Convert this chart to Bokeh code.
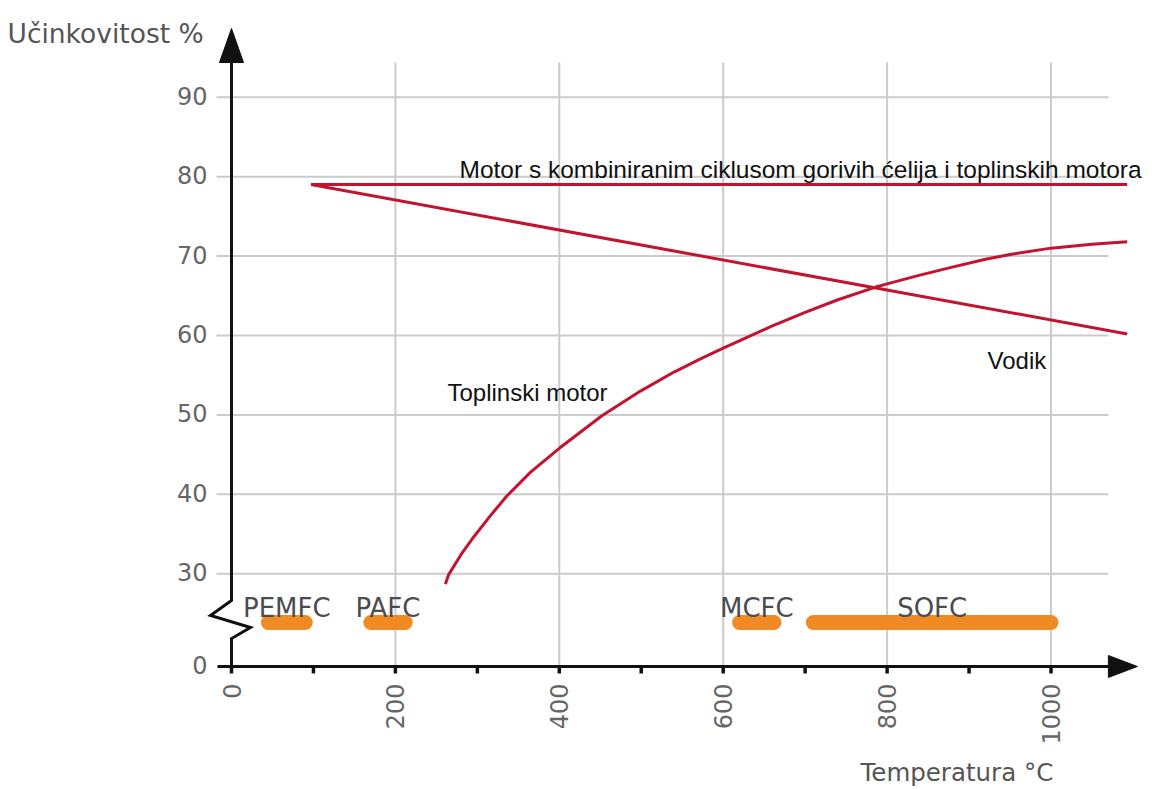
import math
from bokeh.plotting import figure
from bokeh.models import Range1d
from bokeh.core.properties import value
from bokeh.embed import file_html
from bokeh.resources import INLINE

# ---------------- data ----------------
x_ticks = [0, 200, 400, 600, 800, 1000]
x_tick_labels = ["0", "200", "400", "600", "800", "1000"]
x_minor_ticks = [100, 300, 500, 700, 900]
y_ticks = [0, 30, 40, 50, 60, 70, 80, 90]
y_tick_labels = ["0", "30", "40", "50", "60", "70", "80", "90"]
grid_y = [30, 40, 50, 60, 70, 80, 90]
grid_x = [200, 400, 600, 800, 1000]

combined_x = [97, 1093]
combined_y = [79, 79]
hydrogen_x = [97, 1093]
hydrogen_y = [79, 60.2]
heat_x = [261, 265, 280, 296, 315, 336, 365, 400, 452, 499, 540, 571, 600,
          621, 660, 700, 740, 786, 800, 840, 877, 920, 950, 1000, 1050, 1093]
heat_y = [28.7, 29.9, 32.4, 34.7, 37.2, 39.8, 42.8, 45.8, 49.9, 53.0, 55.4, 57.0, 58.4,
          59.4, 61.2, 62.9, 64.5, 66.1, 66.5, 67.6, 68.55, 69.6, 70.2, 71.0, 71.5, 71.8]

fuel_cells = ["PEMFC", "PAFC", "MCFC", "SOFC"]
fc_start = [45, 170, 620, 710]
fc_end = [90, 212, 662, 1000]

# ---------------- layout constants ----------------
PX_PER_X = 0.8195      # pixels per degree C
PX_PER_Y = 7.943       # pixels per percent
BREAK_POS = 18.33      # position at which the "0" of the broken y axis sits
FC_ROW = 23.87         # row of the fuel-cell bars inside the break
X_AXIS_END = 1070
Y_AXIS_END = 94.37

def dx(px):
    return px / PX_PER_X

def dy(px):
    return px / PX_PER_Y

W, H = 1152, 789
X0 = -dx(231)
Y0 = 30 - dy(H - 573.3)
p = figure(width=W, height=H, output_backend="svg", toolbar_location=None,
           x_axis_type=None, y_axis_type=None,
           x_range=Range1d(X0, X0 + dx(W)),
           y_range=Range1d(Y0, Y0 + dy(H)),
           min_border=0, outline_line_color=None)
p.background_fill_color = "white"
p.border_fill_color = "white"

GRID = "#cbcbcb"
RED = "#c3132f"
ORANGE = "#f08a24"
TXT_GRAY = "#666666"

# grid lines
p.segment(x0=[-dx(15)] * len(grid_y), x1=[X_AXIS_END] * len(grid_y),
          y0=grid_y, y1=grid_y, line_color=GRID, line_width=2)
p.segment(x0=grid_x, x1=grid_x, y0=[BREAK_POS] * len(grid_x),
          y1=[Y_AXIS_END] * len(grid_x), line_color=GRID, line_width=2)

# fuel-cell temperature ranges
p.segment(x0=fc_start, x1=fc_end, y0=[FC_ROW] * 4, y1=[FC_ROW] * 4,
          line_color=ORANGE, line_width=15, line_cap="round")
fc_mid = [(a + b) / 2 for a, b in zip(fc_start, fc_end)]
p.text(x=fc_mid, y=[FC_ROW + dy(14)] * 4, text=fuel_cells,
       text_align="center", text_baseline="alphabetic",
       text_font=value("DejaVu Sans"), text_font_size="26px",
       text_color="#4b4b52")

# curves
p.line(combined_x, combined_y, line_color=RED, line_width=3)
p.line(hydrogen_x, hydrogen_y, line_color=RED, line_width=3)
p.line(heat_x, heat_y, line_color=RED, line_width=3, line_join="round")

# x axis with arrow
p.segment(x0=[-dx(14)], x1=[X_AXIS_END], y0=[BREAK_POS], y1=[BREAK_POS],
          line_color="#111111", line_width=3)
p.patch([X_AXIS_END, X_AXIS_END + dx(29), X_AXIS_END],
        [BREAK_POS + dy(11), BREAK_POS, BREAK_POS - dy(11)],
        fill_color="#111111", line_color="#111111")
all_ticks = sorted(x_ticks + x_minor_ticks)
p.segment(x0=all_ticks, x1=all_ticks, y0=[BREAK_POS] * len(all_ticks),
          y1=[BREAK_POS - dy(7)] * len(all_ticks), line_color="#111111", line_width=3.5)

# y axis with break symbol and arrow
zig_x = [0, 0, -dx(21), dx(19), 0, 0]
zig_y = [Y_AXIS_END, 26.64, 24.75, 23.24, 21.85, BREAK_POS]
p.line(zig_x, zig_y, line_color="#111111", line_width=3, line_join="miter")
p.patch([-dx(12), 0, dx(12)],
        [Y_AXIS_END, Y_AXIS_END + dy(34), Y_AXIS_END],
        fill_color="#111111", line_color="#111111")

# tick labels
y_pos = [BREAK_POS if t == 0 else t for t in y_ticks]
p.text(x=[-dx(24)] * len(y_pos), y=[v + dy(1.5) for v in y_pos], text=y_tick_labels,
       text_align="right", text_baseline="middle",
       text_font=value("DejaVu Sans"), text_font_size="24px", text_color=TXT_GRAY)
p.text(x=x_ticks, y=[BREAK_POS - dy(17)] * len(x_ticks), text=x_tick_labels,
       angle=math.pi / 2, text_align="right", text_baseline="middle",
       text_font=value("DejaVu Sans"), text_font_size="24px", text_color=TXT_GRAY)

# axis titles
p.text(x=[-dx(224)], y=[30 + dy(540.3)], text=["Učinkovitost %"],
       text_align="left", text_baseline="alphabetic",
       text_font=value("DejaVu Sans"), text_font_size="26.5px", text_color="#555555")
p.text(x=[dx(629)], y=[30 - dy(183.7)], text=["Temperatura °C"],
       text_align="left", text_baseline="top",
       text_font=value("DejaVu Sans"), text_font_size="24.5px", text_color="#555555")

# curve labels
p.text(x=[dx(228)], y=[30 + dy(404.3)],
       text=["Motor s kombiniranim ciklusom gorivih ćelija i toplinskih motora"],
       text_align="left", text_baseline="alphabetic",
       text_font=value("Liberation Sans"), text_font_size="24.5px", text_color="#111111")
p.text(x=[dx(216)], y=[30 + dy(181.3)], text=["Toplinski motor"],
       text_align="left", text_baseline="alphabetic",
       text_font=value("Liberation Sans"), text_font_size="24px", text_color="#111111")
p.text(x=[dx(756)], y=[30 + dy(213.3)], text=["Vodik"],
       text_align="left", text_baseline="alphabetic",
       text_font=value("Liberation Sans"), text_font_size="24px", text_color="#111111")

open("out.html", "w").write(file_html(p, INLINE))
